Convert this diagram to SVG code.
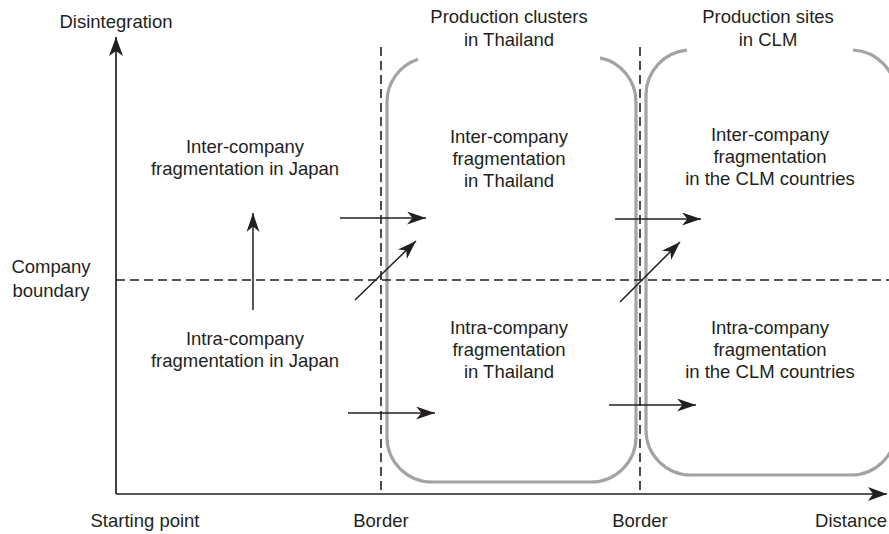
<svg xmlns="http://www.w3.org/2000/svg" width="889" height="534" viewBox="0 0 889 534">
<style>
text{font-family:"Liberation Sans",Arial,sans-serif;font-size:18.5px;fill:#231f20}
.c{text-anchor:middle}
.ln{stroke:#231f20;stroke-width:1.5;fill:none}
.ax{stroke:#231f20;stroke-width:1.7;fill:none}
.dash{stroke:#231f20;stroke-width:1.6;fill:none;stroke-dasharray:9 5}
.box{stroke:#a3a3a3;stroke-width:3.2;fill:none}
</style>
<defs>
<marker id="ah" viewBox="0 -6.5 19 13" markerWidth="19" markerHeight="13" refX="19" refY="0" orient="auto" markerUnits="userSpaceOnUse">
<path d="M0,-6.5 L19,0 L0,6.5 L5.5,0 Z" fill="#231f20"/>
</marker>
<marker id="axh" viewBox="0 -7 19 14" markerWidth="19" markerHeight="14" refX="19" refY="0" orient="auto" markerUnits="userSpaceOnUse">
<path d="M0,-7 L19,0 L0,7 L5,0 Z" fill="#231f20"/>
</marker>
</defs>
<g id="regions">
<path id="box-thailand" class="box" d="M600,57.9 A45,45 0 0 1 636,102 V437 A45,45 0 0 1 591,482 H432 A45,45 0 0 1 387,437 V102 A45,45 0 0 1 418,59.2"/>
<path id="box-clm" class="box" d="M853,50 A45,45 0 0 1 896,95 V430 A45,45 0 0 1 851,475 H691 A45,45 0 0 1 646,430 V95 A45,45 0 0 1 687,50.2"/>
</g>
<g id="guides">
<line class="dash" x1="116" y1="280" x2="889" y2="280"/>
<line class="dash" x1="381" y1="47" x2="381" y2="494"/>
<line class="dash" x1="640" y1="47" x2="640" y2="494"/>
</g>
<g id="axes">
<line class="ax" x1="116" y1="494" x2="116" y2="37" marker-end="url(#axh)"/>
<line class="ax" x1="116" y1="494" x2="887" y2="494" marker-end="url(#axh)"/>
</g>
<g id="connectors">
<line class="ln" x1="253" y1="310" x2="253" y2="213" marker-end="url(#ah)"/>
<line class="ln" x1="340" y1="218" x2="426" y2="218" marker-end="url(#ah)"/>
<line class="ln" x1="355" y1="300" x2="416" y2="241" marker-end="url(#ah)"/>
<line class="ln" x1="348" y1="413" x2="435" y2="413" marker-end="url(#ah)"/>
<line class="ln" x1="615" y1="219" x2="701" y2="219" marker-end="url(#ah)"/>
<line class="ln" x1="620" y1="302" x2="680" y2="242" marker-end="url(#ah)"/>
<line class="ln" x1="609" y1="405" x2="696" y2="405" marker-end="url(#ah)"/>
</g>
<g id="axis-labels">
<text class="c" x="116" y="28">Disintegration</text>
<text class="c" x="51" y="273">Company</text>
<text class="c" x="51" y="297">boundary</text>
<text class="c" x="145" y="527">Starting point</text>
<text class="c" x="381" y="527">Border</text>
<text class="c" x="640" y="527">Border</text>
<text x="887" y="527" text-anchor="end">Distance</text>
</g>
<g id="header-thailand">
<text class="c" x="509" y="23">Production clusters</text>
<text class="c" x="509" y="46">in Thailand</text>
</g>
<g id="header-clm">
<text class="c" x="768" y="23">Production sites</text>
<text class="c" x="768" y="46">in CLM</text>
</g>
<g id="inter-japan">
<text class="c" x="245" y="153">Inter-company</text>
<text class="c" x="245" y="175">fragmentation in Japan</text>
</g>
<g id="intra-japan">
<text class="c" x="245" y="345">Intra-company</text>
<text class="c" x="245" y="367">fragmentation in Japan</text>
</g>
<g id="inter-thailand">
<text class="c" x="509" y="143">Inter-company</text>
<text class="c" x="509" y="165">fragmentation</text>
<text class="c" x="509" y="187">in Thailand</text>
</g>
<g id="intra-thailand">
<text class="c" x="509" y="334">Intra-company</text>
<text class="c" x="509" y="356">fragmentation</text>
<text class="c" x="509" y="378">in Thailand</text>
</g>
<g id="inter-clm">
<text class="c" x="770" y="141">Inter-company</text>
<text class="c" x="770" y="163">fragmentation</text>
<text class="c" x="770" y="185">in the CLM countries</text>
</g>
<g id="intra-clm">
<text class="c" x="770" y="334">Intra-company</text>
<text class="c" x="770" y="356">fragmentation</text>
<text class="c" x="770" y="378">in the CLM countries</text>
</g>
</svg>
